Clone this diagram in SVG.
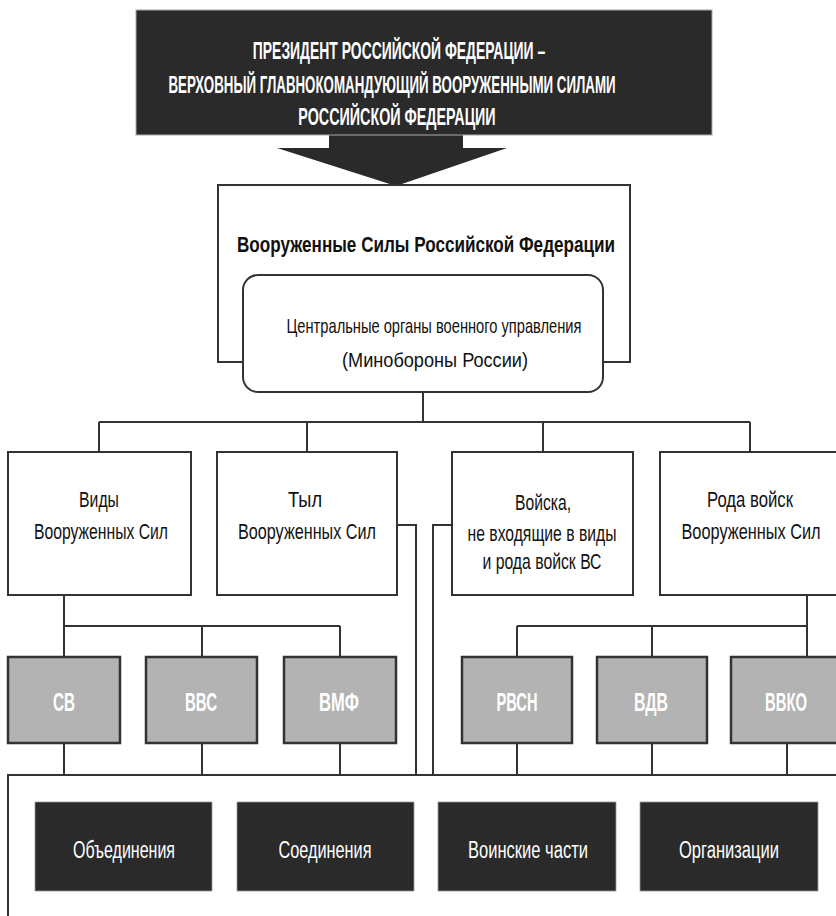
<svg xmlns="http://www.w3.org/2000/svg" width="836" height="916" viewBox="0 0 836 916">
<style>
  text { font-family: "Liberation Sans", Arial, sans-serif; text-anchor: middle; }
  .ln { fill: none; stroke: #333; stroke-width: 2; }
  .wb { fill: #fff; stroke: #333; stroke-width: 2; }
  .gb { fill: #b3b3b3; stroke: #333; stroke-width: 2.5; }
  .db { fill: #2a2a2a; stroke: #999; stroke-width: 0.8; }
  .tw { fill: #fff; font-weight: bold; }
  .tb { fill: #111; }
  .tl { fill: #fff; }
</style>
<rect width="836" height="916" fill="#fff"/>

<g id="connectors">
  <polygon points="329,135 463,135 463,148 507,148 396,186 277,148 329,148" fill="#2a2a2a"/>
  <path class="ln" d="M423,392 V422 M99,422 H750 M99,422 V452 M307,422 V452 M543,422 V452 M750,422 V452"/>
  <path class="ln" d="M397,525 H416 V775 M452,525 H433 V775"/>
  <path class="ln" d="M64,595 V657 M64,626 H340 M202,626 V657 M340,626 V657"/>
  <path class="ln" d="M807,595 V657 M517,626 H807 M517,626 V657 M652,626 V657"/>
  <path class="ln" d="M64,743 V775 M202,743 V775 M340,743 V775 M517,743 V775 M652,743 V775 M787,743 V775"/>
  <path class="ln" d="M8,918 V775 H838"/>
</g>

<g id="president">
  <rect x="136" y="10" width="576" height="125" fill="#2a2a2a" stroke="#aaa" stroke-width="1"/>
  <text class="tw" transform="translate(399,59) scale(0.72,1)" font-size="24" textLength="406" lengthAdjust="spacingAndGlyphs">ПРЕЗИДЕНТ РОССИЙСКОЙ ФЕДЕРАЦИИ –</text>
  <text class="tw" transform="translate(392,93) scale(0.72,1)" font-size="24" textLength="621" lengthAdjust="spacingAndGlyphs">ВЕРХОВНЫЙ ГЛАВНОКОМАНДУЮЩИЙ ВООРУЖЕННЫМИ СИЛАМИ</text>
  <text class="tw" transform="translate(397,125) scale(0.72,1)" font-size="24" textLength="274" lengthAdjust="spacingAndGlyphs">РОССИЙСКОЙ ФЕДЕРАЦИИ</text>
</g>

<g id="armed-forces">
  <rect class="wb" x="218" y="185" width="412" height="177"/>
  <text class="tb" x="426" y="252" font-size="22" font-weight="bold" textLength="378" lengthAdjust="spacingAndGlyphs">Вооруженные Силы Российской Федерации</text>
</g>

<g id="central-organs">
  <rect class="wb" x="243" y="275" width="360" height="117" rx="15" ry="15"/>
  <text class="tb" x="434" y="333" font-size="21" textLength="295" lengthAdjust="spacingAndGlyphs">Центральные органы военного управления</text>
  <text class="tb" x="435" y="367" font-size="21" textLength="186" lengthAdjust="spacingAndGlyphs">(Минобороны России)</text>
</g>

<g id="vidy">
  <rect class="wb" x="8" y="452" width="183" height="143"/>
  <text class="tb" x="99" y="507" font-size="22" textLength="40" lengthAdjust="spacingAndGlyphs">Виды</text>
  <text class="tb" x="101" y="539" font-size="22" textLength="134" lengthAdjust="spacingAndGlyphs">Вооруженных Сил</text>
</g>

<g id="tyl">
  <rect class="wb" x="217" y="452" width="180" height="143"/>
  <text class="tb" x="305" y="507" font-size="22" textLength="34" lengthAdjust="spacingAndGlyphs">Тыл</text>
  <text class="tb" x="307" y="539" font-size="22" textLength="138" lengthAdjust="spacingAndGlyphs">Вооруженных Сил</text>
</g>

<g id="voiska">
  <rect class="wb" x="452" y="452" width="181" height="143"/>
  <text class="tb" x="543" y="510" font-size="22" textLength="56" lengthAdjust="spacingAndGlyphs">Войска,</text>
  <text class="tb" x="542" y="541" font-size="22" textLength="149" lengthAdjust="spacingAndGlyphs">не входящие в виды</text>
  <text class="tb" x="542" y="569" font-size="22" textLength="119" lengthAdjust="spacingAndGlyphs">и рода войск ВС</text>
</g>

<g id="roda">
  <rect class="wb" x="660" y="452" width="178" height="143"/>
  <text class="tb" x="750" y="507" font-size="22" textLength="86" lengthAdjust="spacingAndGlyphs">Рода войск</text>
  <text class="tb" transform="translate(751,539) scale(0.76,1)" font-size="22" textLength="183" lengthAdjust="spacingAndGlyphs">Вооруженных Сил</text>
</g>

<g id="sv">
  <rect class="gb" x="8" y="657" width="112" height="86"/>
  <text class="tw" x="64" y="711" font-size="25" textLength="22" lengthAdjust="spacingAndGlyphs">СВ</text>
</g>
<g id="vvs">
  <rect class="gb" x="146" y="657" width="111" height="86"/>
  <text class="tw" x="201" y="711" font-size="25" textLength="32" lengthAdjust="spacingAndGlyphs">ВВС</text>
</g>
<g id="vmf">
  <rect class="gb" x="284" y="657" width="112" height="86"/>
  <text class="tw" x="339" y="711" font-size="25" textLength="40" lengthAdjust="spacingAndGlyphs">ВМФ</text>
</g>
<g id="rvsn">
  <rect class="gb" x="462" y="657" width="110" height="86"/>
  <text class="tw" x="517" y="711" font-size="25" textLength="41" lengthAdjust="spacingAndGlyphs">РВСН</text>
</g>
<g id="vdv">
  <rect class="gb" x="597" y="657" width="110" height="86"/>
  <text class="tw" x="651" y="711" font-size="25" textLength="34" lengthAdjust="spacingAndGlyphs">ВДВ</text>
</g>
<g id="vvko">
  <rect class="gb" x="731" y="657" width="107" height="86"/>
  <text class="tw" x="786" y="711" font-size="25" textLength="42" lengthAdjust="spacingAndGlyphs">ВВКО</text>
</g>

<g id="obedineniya">
  <rect class="db" x="35" y="802" width="177" height="89"/>
  <text class="tl" x="124" y="858" font-size="23" textLength="102" lengthAdjust="spacingAndGlyphs">Объединения</text>
</g>
<g id="soedineniya">
  <rect class="db" x="237" y="802" width="177" height="89"/>
  <text class="tl" x="325" y="858" font-size="23" textLength="93" lengthAdjust="spacingAndGlyphs">Соединения</text>
</g>
<g id="voinskie-chasti">
  <rect class="db" x="438" y="802" width="178" height="89"/>
  <text class="tl" x="528" y="858" font-size="23" textLength="120" lengthAdjust="spacingAndGlyphs">Воинские части</text>
</g>
<g id="organizatsii">
  <rect class="db" x="640" y="802" width="178" height="89"/>
  <text class="tl" x="729" y="858" font-size="23" textLength="100" lengthAdjust="spacingAndGlyphs">Организации</text>
</g>
</svg>
